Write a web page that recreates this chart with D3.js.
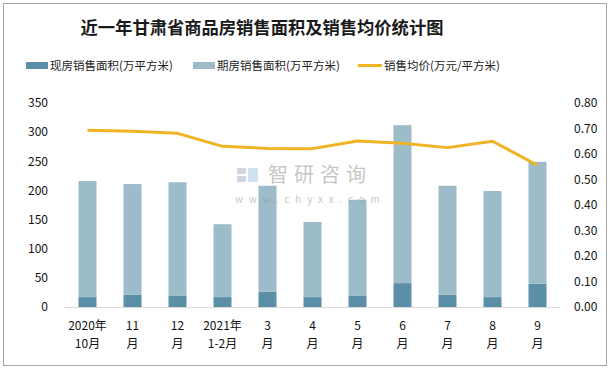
<!DOCTYPE html>
<html><head><meta charset="utf-8">
<script src="https://cdn.jsdelivr.net/npm/d3@7"></script>
<style>
html,body{margin:0;padding:0;background:#fff;}
svg{display:block;font-family:"Noto Sans CJK SC","Noto Sans",sans-serif;}
</style></head>
<body><svg id="c" width="611" height="369"></svg>
<script>
const categories = ["2020年\n10月","11\n月","12\n月","2021年\n1-2月","3\n月","4\n月","5\n月","6\n月","7\n月","8\n月","9\n月"];
const spotArea = [17,21,19,17,26,17,19,41,21,17,40];
const futureArea = [199,190,195,125,182,129,165,271,187,182,209];
const avgPrice = [0.693,0.689,0.681,0.630,0.622,0.621,0.651,0.642,0.625,0.650,0.556];
const leftTicks = [0,50,100,150,200,250,300,350];
const rightTicks = [0,0.1,0.2,0.3,0.4,0.5,0.6,0.7,0.8];
const seriesNames = ["现房销售面积(万平方米)","期房销售面积(万平方米)","销售均价(万元/平方米)"];
const colors = ["#5b8fa7","#9dbcca","#f0b323"];

const svg = d3.select("#c");
svg.append("rect").attr("x",3.5).attr("y",3.5).attr("width",603).attr("height",362)
  .attr("fill","#fff").attr("stroke","#a6a6a6").attr("stroke-width",1);

svg.append("text").attr("x",262).attr("y",34).attr("text-anchor","middle")
  .attr("font-size",17.3).attr("font-weight","bold").attr("fill","#1a1a1a")
  .text("近一年甘肃省商品房销售面积及销售均价统计图");

const x = d3.scaleBand().domain(categories).range([65,560]).paddingInner(0.6).paddingOuter(0.3);
const y = d3.scaleLinear().domain([0,350]).range([307,103]);
const y2 = d3.scaleLinear().domain([0,0.8]).range([307,103]);

// legend
const lg = svg.append("g").attr("font-size",11.5).attr("fill","#222");
const legendX = [26,193,358];
lg.append("rect").attr("x",legendX[0]).attr("y",62).attr("width",22).attr("height",7).attr("fill",colors[0]);
lg.append("rect").attr("x",legendX[1]).attr("y",62).attr("width",22).attr("height",7).attr("fill",colors[1]);
lg.append("line").attr("x1",legendX[2]).attr("x2",legendX[2]+24).attr("y1",65.5).attr("y2",65.5).attr("stroke",colors[2]).attr("stroke-width",3);
seriesNames.forEach((n,i)=>{
  lg.append("text").attr("x",legendX[i]+(i==2?26:24)).attr("y",65.5).attr("dy","0.35em").text(n);
});

// axes
const ax = svg.append("g").attr("transform","translate(48,0)")
  .call(d3.axisLeft(y).tickValues(leftTicks).tickSize(0).tickPadding(0));
ax.select(".domain").remove();
ax.selectAll("text").attr("font-size",12).attr("fill","#111").attr("font-family","Noto Sans CJK SC");
const ax2 = svg.append("g").attr("transform","translate(574,0)")
  .call(d3.axisRight(y2).tickValues(rightTicks).tickFormat(d3.format(".2f")).tickSize(0).tickPadding(0));
ax2.select(".domain").remove();
ax2.selectAll("text").attr("font-size",12).attr("fill","#111").attr("font-family","Noto Sans CJK SC");

// bars
const g = svg.append("g");
g.selectAll(".spot").data(categories).join("rect")
  .attr("x",d=>x(d)).attr("width",x.bandwidth())
  .attr("y",(d,i)=>y(spotArea[i])).attr("height",(d,i)=>y(0)-y(spotArea[i]))
  .attr("fill",colors[0]);
g.selectAll(".fut").data(categories).join("rect")
  .attr("x",d=>x(d)).attr("width",x.bandwidth())
  .attr("y",(d,i)=>y(spotArea[i]+futureArea[i])).attr("height",(d,i)=>y(spotArea[i])-y(spotArea[i]+futureArea[i]))
  .attr("fill",colors[1]);

// baseline
svg.append("line").attr("x1",65).attr("x2",560).attr("y1",307.5).attr("y2",307.5).attr("stroke","#d9d9d9").attr("stroke-width",1);

// x labels
const xl = svg.append("g").attr("font-size",12).attr("fill","#111");
categories.forEach(c=>{
  const parts = c.split("\n");
  const cx = x(c)+x.bandwidth()/2;
  parts.forEach((p,j)=>{
    xl.append("text").attr("x",cx).attr("y",326+j*18).attr("dy","0.35em").attr("text-anchor","middle").text(p);
  });
});

// line
const line = d3.line().x((d,i)=>x(categories[i])+x.bandwidth()/2).y(d=>y2(d));
svg.append("path").datum(avgPrice).attr("d",line).attr("fill","none")
  .attr("stroke",colors[2]).attr("stroke-width",3).attr("stroke-linejoin","round");

// watermark
const wm = svg.append("g").attr("opacity",0.55);
wm.append("rect").attr("x",237).attr("y",168).attr("width",9).attr("height",6).attr("fill","#aab4cc");
wm.append("rect").attr("x",248).attr("y",168).attr("width",10).attr("height",14).attr("fill","#a9cbe6");
wm.append("rect").attr("x",237).attr("y",176).attr("width",9).attr("height",6).attr("fill","#aab4cc");
wm.append("text").attr("x",268).attr("y",175).attr("dy","0.35em").attr("font-size",20).attr("fill","#999").attr("letter-spacing",6).text("智研咨询");
wm.append("text").attr("x",235).attr("y",199).attr("dy","0.35em").attr("font-size",10).attr("fill","#999").attr("letter-spacing",5.8).text("www.chyxx.com");
</script></body></html>
